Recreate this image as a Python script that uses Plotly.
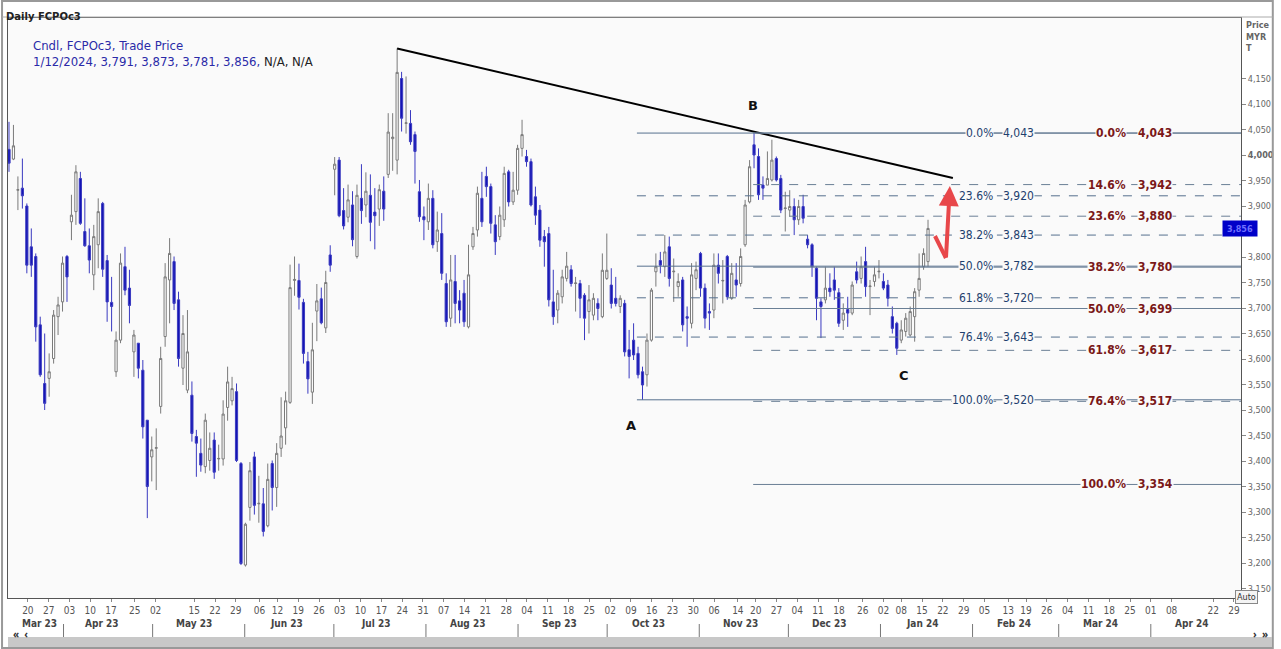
import plotly.graph_objects as go
import pandas as pd

# ---------------- data ----------------
opens = [4011,3992,3931,3935,3900,3820,3801,3667,3552,3562,3601,3683,3712,3801,3869,3889,3954,3850,3822,3765,3824,3905,3793,3711,3575,3637,3781,3739,3614,3631,3578,3480,3408,3425,3507,3644,3755,3791,3716,3582,3539,3529,3448,3415,
 3389,3401,3441,3404,3404,3505,3518,3536,3395,3196,3309,3408,3316,3316,3273,3395,3348,3425,3465,3515,3754,3754,3711,3595,3535,3694,3718,3661,3804,3972,3990,3891,3878,3902,3801,3915,3902,3921,3888,3894,3929,3962,4032,3990,
 4150,4062,4062,4040,3928,3879,3869,3915,3830,3846,3748,3680,3752,3714,3729,3663,3820,3853,3915,3958,3938,3863,3840,3873,3967,3908,3931,4013,3997,3987,3918,3892,3840,3846,3712,3696,3722,3758,3775,3748,3748,3725,3693,3686,3709,3683,3758,3745,3719,3703,3709,3618,3637,3611,3575,
 3569,3637,3771,3793,3781,3820,3771,3742,3755,3683,3670,3758,3807,3739,3693,3696,3784,3753,3801,3719,3755,3748,3824,3908,4020,3997,3941,3941,3951,3993,3954,3895,3892,3899,3873,3899,3835,3824,3778,3712,3716,3739,3755,3730,3676,3697,3690,3771,3758,3791,3742,3752,3771,3752,3745,3683,3670,3637,3654,3647,3683,3735,3781,3791]
highs = [4065,4059,3958,3993,3905,3856,3807,3683,3650,3611,3696,3722,3801,3804,3922,3980,3967,3915,3856,3863,3915,3908,3804,3761,3654,3807,3820,3775,3657,3631,3598,3480,3448,3464,3624,3788,3837,3801,3732,3686,3696,3556,3461,3444,
 3493,3456,3456,3432,3519,3585,3565,3552,3398,3279,3398,3418,3371,3347,3395,3401,3435,3525,3536,3785,3801,3787,3718,3614,3671,3747,3740,3773,3823,3996,3996,3935,3942,3929,3942,3982,3966,3962,3935,3942,3958,4082,4082,4209,
 4163,4154,4088,4046,3951,3899,3944,3931,3889,3886,3768,3804,3804,3735,3755,3824,3859,3938,3967,3977,3944,3882,3899,3977,3971,3967,4020,4069,4010,3993,3938,3902,3853,3859,3775,3735,3775,3810,3784,3761,3755,3729,3745,3729,3719,3807,3846,3778,3761,3725,3716,3657,3670,3624,3585,
 3650,3739,3807,3810,3843,3840,3797,3768,3761,3703,3788,3791,3810,3748,3709,3807,3807,3794,3804,3788,3788,3817,3912,3990,4043,4013,3958,4007,4030,3997,3961,3928,3931,3915,3912,3922,3843,3827,3781,3719,3781,3768,3781,3739,3709,3722,3752,3791,3801,3820,3755,3781,3794,3768,3755,3703,3673,3676,3690,3703,3739,3807,3817,3873]
lows = [3967,3990,3892,3895,3768,3761,3634,3565,3500,3526,3591,3647,3693,3712,3833,3863,3863,3820,3768,3735,3778,3761,3673,3654,3565,3631,3725,3670,3565,3562,3444,3288,3360,3343,3493,3624,3670,3696,3585,3549,3533,3438,3369,3379,
 3376,3381,3365,3381,3391,3479,3509,3398,3196,3193,3283,3295,3279,3252,3270,3303,3310,3408,3432,3512,3724,3697,3591,3532,3512,3635,3668,3651,3771,3921,3878,3854,3868,3821,3797,3865,3878,3831,3815,3861,3871,3955,3969,3962,
 4046,4042,4020,3944,3869,3833,3853,3817,3810,3755,3663,3663,3670,3670,3663,3660,3814,3840,3859,3918,3846,3804,3833,3859,3899,3902,3922,3997,3977,3899,3863,3820,3781,3703,3667,3670,3709,3752,3742,3693,3680,3637,3650,3676,3676,3680,3755,3699,3703,3690,3605,3562,3598,3562,3520,
 3546,3634,3742,3768,3761,3742,3712,3722,3654,3624,3660,3735,3722,3660,3657,3680,3748,3709,3716,3716,3722,3742,3820,3905,3974,3912,3912,3941,3948,3948,3886,3850,3879,3843,3863,3866,3817,3761,3676,3641,3709,3722,3716,3663,3657,3663,3686,3748,3748,3722,3686,3742,3758,3735,3703,3650,3608,3631,3644,3644,3634,3722,3775,3781]
closes = [3984,4018,3932,3920,3784,3784,3663,3569,3513,3575,3686,3706,3788,3761,3882,3967,3866,3822,3794,3840,3889,3776,3712,3703,3637,3788,3735,3705,3647,3582,3467,3350,3422,3426,3601,3761,3807,3709,3601,3650,3614,3454,3435,3392,
 3480,3425,3378,3405,3492,3555,3542,3401,3199,3276,3381,3313,3317,3262,3364,3348,3415,3449,3518,3740,3756,3721,3611,3561,3618,3714,3671,3750,3784,3982,3881,3861,3912,3834,3921,3891,3929,3868,3881,3932,3894,4045,4035,4162,
 4072,4063,4026,4007,3879,3873,3915,3824,3853,3768,3673,3755,3709,3696,3673,3765,3846,3925,3869,3938,3866,3830,3882,3964,3908,3931,4013,4040,3987,3902,3882,3833,3830,3716,3683,3729,3761,3782,3748,3749,3719,3680,3716,3719,3699,3774,3774,3709,3709,3719,3614,3605,3608,3569,3549,
 3637,3735,3781,3784,3810,3758,3772,3752,3667,3680,3765,3775,3739,3680,3690,3784,3768,3754,3722,3768,3745,3801,3902,3977,4000,3922,3935,3954,3990,3951,3892,3896,3899,3873,3899,3876,3824,3781,3719,3703,3739,3732,3735,3670,3690,3690,3745,3755,3781,3742,3743,3765,3772,3739,3719,3660,3621,3657,3680,3693,3732,3758,3807,3856]

tick_dates = ["2023-03-20","2023-03-27","2023-04-03","2023-04-10","2023-04-17","2023-04-25","2023-05-02","2023-05-15","2023-05-22","2023-05-29",
 "2023-06-06","2023-06-12","2023-06-19","2023-06-26","2023-07-03","2023-07-10","2023-07-17","2023-07-24","2023-07-31","2023-08-07","2023-08-14",
 "2023-08-21","2023-08-28","2023-09-04","2023-09-11","2023-09-18","2023-09-25","2023-10-02","2023-10-09","2023-10-16","2023-10-23","2023-10-30",
 "2023-11-06","2023-11-14","2023-11-20","2023-11-27","2023-12-04","2023-12-11","2023-12-18","2023-12-26","2024-01-02","2024-01-08","2024-01-15",
 "2024-01-22","2024-01-29","2024-02-05","2024-02-13","2024-02-19","2024-02-26","2024-03-04","2024-03-11","2024-03-18","2024-03-25","2024-04-01",
 "2024-04-08","2024-04-22","2024-04-29"]
month_labels = ["Mar 23","Apr 23","May 23","Jun 23","Jul 23","Aug 23","Sep 23","Oct 23","Nov 23","Dec 23","Jan 24","Feb 24","Mar 24","Apr 24"]
month_label_dates = ["2023-03-24","2023-04-14","2023-05-15","2023-06-15","2023-07-15","2023-08-15","2023-09-15","2023-10-15","2023-11-15",
 "2023-12-15","2024-01-15","2024-02-15","2024-03-15","2024-04-15"]
month_starts = ["2023-04-01","2023-05-01","2023-06-01","2023-07-01","2023-08-01","2023-09-01","2023-10-01","2023-11-01","2023-12-01",
 "2024-01-01","2024-02-01","2024-03-01","2024-04-01"]

fib1_pct = ["0.0%","23.6%","38.2%","50.0%","61.8%","76.4%","100.0%"]
fib1_val = [4043,3920,3843,3782,3720,3643,3520]
fib1_dash = ["solid","dash","dash","solid","dash","dash","solid"]
fib2_pct = ["0.0%","14.6%","23.6%","38.2%","50.0%","61.8%","76.4%","100.0%"]
fib2_val = [4043,3942,3880,3780,3699,3617,3517,3354]
fib2_dash = ["solid","dash","dash","solid","solid","dash","dash","solid"]
y_ticks = list(range(3150, 4151, 50))
last_price = 3856

# ---------------- geometry helpers ----------------
n = min(len(opens), len(highs), len(lows), len(closes))
xs = list(range(n))
sp = (933 - 8) / (n - 1)
def ix(px): return (px - 8) / sp
def pr(py): return 4000 - (py - 155) / 0.51
def paper_x(px): return (px - 7) / 1241
def paper_y(py): return (598 - py) / 580
base = pd.Timestamp("2023-03-20")
def didx(d): return ix(27) + (pd.Timestamp(d) - base).days * 2.99 / sp

def ylab(v):
    if abs(v - last_price) < 25:
        return ""  # hidden behind the last-price marker, as in the reference
    return f"<b>{v:,}</b>" if v == 4000 else f"{v:,}"

LBL = "DejaVu Sans Condensed"
fig = go.Figure()
fig.add_trace(go.Candlestick(
    x=xs, open=opens[:n], high=highs[:n], low=lows[:n], close=closes[:n],
    increasing=dict(fillcolor="#ffffff", line=dict(color="#7a7a7a", width=1)),
    decreasing=dict(fillcolor="#1414b4", line=dict(color="#3a3ac0", width=1)),
    whiskerwidth=0, showlegend=False, hoverinfo="skip"))

shapes = []
ann = []
pk = max(range(n), key=lambda i: highs[i])
shapes.append(dict(type="line", x0=pk, y0=highs[pk], x1=ix(958), y1=pr(178), line=dict(color="black", width=2)))
for p, v, d in zip(fib1_pct, fib1_val, fib1_dash):
    shapes.append(dict(type="line", x0=ix(640), x1=ix(1248), y0=v, y1=v, line=dict(color="#56708e", width=1, dash=d)))
    ann.append(dict(x=ix(999), y=v, text=p, xanchor="right", showarrow=False, bgcolor="#fafafa", borderpad=0,
                    font=dict(size=12, color="#1e3f6e", family=LBL)))
    ann.append(dict(x=ix(1007), y=v, text=f"{v:,}", xanchor="left", showarrow=False, bgcolor="#fafafa", borderpad=0,
                    font=dict(size=12, color="#1e3f6e", family=LBL)))
for p, v, d in zip(fib2_pct, fib2_val, fib2_dash):
    shapes.append(dict(type="line", x0=ix(757), x1=ix(1248), y0=v, y1=v, line=dict(color="#6a7f95", width=1, dash=d)))
    ann.append(dict(x=ix(1133), y=v, text=f"<b>{p}</b>", xanchor="right", showarrow=False, bgcolor="#fafafa", borderpad=0,
                    font=dict(size=12, color="#7a1818", family=LBL)))
    ann.append(dict(x=ix(1143), y=v, text=f"<b>{v:,}</b>", xanchor="left", showarrow=False, bgcolor="#fafafa", borderpad=0,
                    font=dict(size=12, color="#7a1818", family=LBL)))
for t, px, py in [("A", 634, 425), ("B", 757, 105), ("C", 909, 375)]:
    ann.append(dict(x=ix(px), y=pr(py), text=f"<b>{t}</b>", showarrow=False, font=dict(size=13, color="#111", family="DejaVu Sans")))
shapes.append(dict(type="line", x0=ix(940), y0=pr(236), x1=ix(951), y1=pr(258), line=dict(color="#e8474a", width=4)))
ann.append(dict(x=ix(955), y=pr(186), ax=ix(951), ay=pr(259), axref="x", ayref="y", text="", showarrow=True,
                arrowhead=2, arrowsize=1, arrowwidth=4, arrowcolor="#e8474a"))
ann.append(dict(x=paper_x(1265), xref="paper", y=last_price, text=f"<b>{last_price:,}</b>", showarrow=False,
                bgcolor="#0000c8", font=dict(size=9, color="#7070ff", family=LBL), width=32, height=13))
ann.append(dict(x=paper_x(3), y=paper_y(9), xref="paper", yref="paper", xanchor="left", text="<b>Daily FCPOc3</b>", showarrow=False,
                font=dict(size=10, color="#222", family="DejaVu Sans")))
ann.append(dict(x=paper_x(30), y=paper_y(36), xref="paper", yref="paper", xanchor="left", text="Cndl, FCPOc3, Trade Price", showarrow=False,
                font=dict(size=13, color="#2a2aa8", family=LBL)))
ann.append(dict(x=paper_x(30), y=paper_y(52), xref="paper", yref="paper", xanchor="left",
                text="1/12/2024, 3,791, 3,873, 3,781, 3,856, <span style='color:#222'>N/A, N/A</span>", showarrow=False,
                font=dict(size=13, color="#2a2aa8", family=LBL)))
ann.append(dict(x=paper_x(1251), y=paper_y(18), xref="paper", yref="paper", xanchor="left", yanchor="top", align="left",
                text="<b>Price<br>MYR<br>T</b>", showarrow=False, font=dict(size=9, color="#666", family=LBL)))
for lab, d in zip(month_labels, month_label_dates):
    ann.append(dict(x=didx(d), y=paper_y(631), yref="paper", text=f"<b>{lab}</b>", showarrow=False,
                    font=dict(size=10, color="#444", family=LBL)))
for d in month_starts:
    shapes.append(dict(type="line", x0=didx(d), x1=didx(d), y0=paper_y(624), y1=paper_y(637), yref="paper", line=dict(color="#777", width=1)))
shapes.append(dict(type="rect", xref="paper", yref="paper", x0=paper_x(7), x1=paper_x(1279), y0=paper_y(637), y1=paper_y(649),
                   fillcolor="#c8c8c8", line=dict(width=0), layer="below"))
shapes.append(dict(type="rect", xref="paper", yref="paper", x0=paper_x(1), x1=paper_x(1280), y0=paper_y(648), y1=paper_y(1),
                   fillcolor="rgba(0,0,0,0)", line=dict(color="#999", width=2)))
shapes.append(dict(type="line", xref="paper", yref="paper", x0=paper_x(1), x1=paper_x(1280), y0=paper_y(17), y1=paper_y(17),
                   line=dict(color="#aaa", width=1)))
ann.append(dict(x=paper_x(10), y=paper_y(643), xref="paper", yref="paper", text="<b>«  ‹</b>", xanchor="left", showarrow=False,
                font=dict(size=10, color="#333")))
ann.append(dict(x=paper_x(1277), y=paper_y(643), xref="paper", yref="paper", text="<b>›  »</b>", xanchor="right", showarrow=False,
                font=dict(size=10, color="#333")))
ann.append(dict(x=paper_x(1265), y=paper_y(604), xref="paper", yref="paper", text="Auto", showarrow=False, bordercolor="#888",
                borderwidth=1, bgcolor="#f4f4f4", font=dict(size=9, color="#333", family=LBL)))

fig.update_layout(
    width=1281, height=649, margin=dict(l=7, r=33, t=18, b=51),
    paper_bgcolor="#ffffff", plot_bgcolor="#fafafa",
    shapes=shapes, annotations=ann, showlegend=False,
    xaxis=dict(range=[ix(7), ix(1248)], rangeslider=dict(visible=False), showgrid=False, zeroline=False,
               tickvals=[didx(d) for d in tick_dates], ticktext=[d[-2:] for d in tick_dates],
               ticks="outside", ticklen=3, tickcolor="#888", tickfont=dict(size=10, color="#555", family=LBL),
               showline=True, linecolor="#555", mirror=True),
    yaxis=dict(side="right", range=[pr(598), pr(18)], showgrid=False, zeroline=False,
               tickvals=y_ticks, ticktext=[ylab(v) for v in y_ticks],
               ticks="outside", ticklen=4, tickcolor="#888", tickfont=dict(size=9, color="#666", family=LBL),
               showline=True, linecolor="#555", mirror=True),
)
fig.write_html("out.html", config={"displayModeBar": False},
               post_script="document.body.style.margin='0';document.body.style.overflow='hidden';")
